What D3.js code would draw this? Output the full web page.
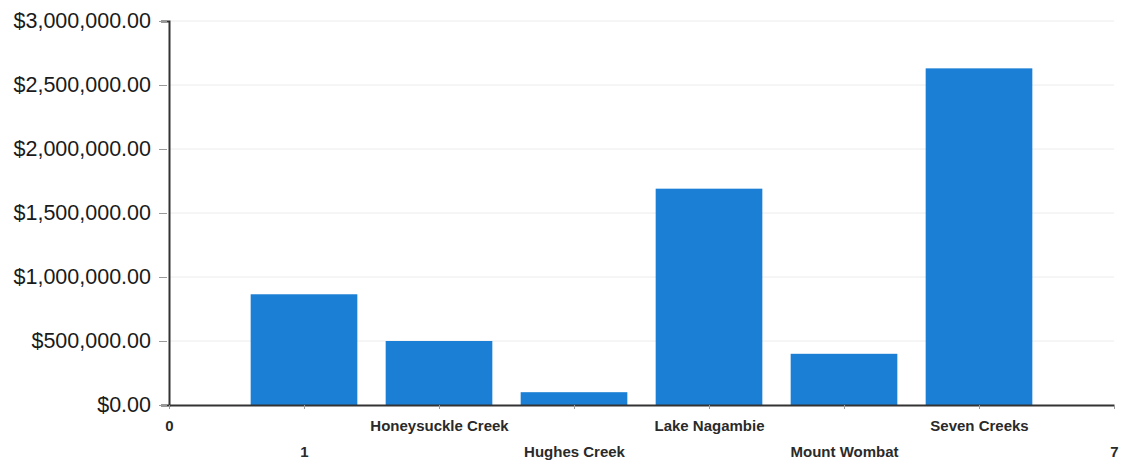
<!DOCTYPE html>
<html>
<head>
<meta charset="utf-8">
<script src="https://cdn.jsdelivr.net/npm/d3@7"></script>
<style>
  body { margin: 0; background: #fff; }
  svg { display: block; }
  .y-axis text { font-family: "Liberation Sans", Arial, sans-serif; font-size: 21.5px; fill: #1a1a1a; }
  .x-axis text { font-family: "Liberation Sans", Arial, sans-serif; font-size: 15px; font-weight: bold; fill: #2a2a2a; }
</style>
</head>
<body>
<svg id="chart"></svg>
<script>
// valeurs
const tickPositions = [0, 1, 2, 3, 4, 5, 6, 7];
const tickLabels = ["0", "1", "Honeysuckle Creek", "Hughes Creek", "Lake Nagambie", "Mount Wombat", "Seven Creeks", "7"];
const barPositions = [1, 2, 3, 4, 5, 6];
const barValues = [865000, 500000, 100000, 1690000, 400000, 2630000];
const yTicks = [0, 500000, 1000000, 1500000, 2000000, 2500000, 3000000];

var margin = {top: 21, right: 9, bottom: 62, left: 169},
width = 1123 - margin.left - margin.right,
height = 467 - margin.top - margin.bottom;

const svg = d3.select("#chart")
  .attr("width", width + margin.left + margin.right)
  .attr("height", height + margin.top + margin.bottom);
const g = svg.append("g").attr("transform", `translate(${margin.left},${margin.top})`);

const x = d3.scaleLinear().domain([0, 7]).range([0, 945]);
const y = d3.scaleLinear().domain([0, 3000000]).range([height, 0]);
const step = x(1) - x(0);
const barW = step * 0.79;

// grille très pâle
g.append("g")
  .selectAll("line")
  .data(yTicks.slice(1))
  .enter().append("line")
  .attr("x1", 0).attr("x2", x(7))
  .attr("y1", d => y(d)).attr("y2", d => y(d))
  .attr("stroke", "#ececec")
  .attr("stroke-width", 1);

// barres
g.selectAll("rect.bar")
  .data(barValues)
  .enter().append("rect")
  .attr("class", "bar")
  .attr("x", (d, i) => x(barPositions[i]) - barW / 2)
  .attr("width", barW)
  .attr("y", d => y(d))
  .attr("height", d => height - y(d))
  .attr("fill", "#1a7fd5");

// axe y
const yAxis = g.append("g")
  .attr("class", "y-axis")
  .call(d3.axisLeft(y).tickValues(yTicks).tickFormat(d3.format("$,.2f")).tickSize(8).tickPadding(10));
yAxis.select(".domain").attr("stroke", "#333").attr("stroke-width", 2);
yAxis.selectAll(".tick line").attr("stroke", "#999").attr("transform", "translate(-2,0)");

// axe x
const xAxis = g.append("g")
  .attr("class", "x-axis")
  .attr("transform", `translate(0,${height})`)
  .call(d3.axisBottom(x).tickValues(tickPositions).tickFormat((d, i) => tickLabels[i]).tickSize(4).tickSizeOuter(0));
xAxis.select(".domain").attr("stroke", "#333").attr("stroke-width", 2);
xAxis.selectAll(".tick line").attr("stroke", "#999");
xAxis.selectAll(".tick text")
  .attr("y", (d, i) => i % 2 === 0 ? 26 : 52)
  .attr("dy", 0);
</script>
</body>
</html>
